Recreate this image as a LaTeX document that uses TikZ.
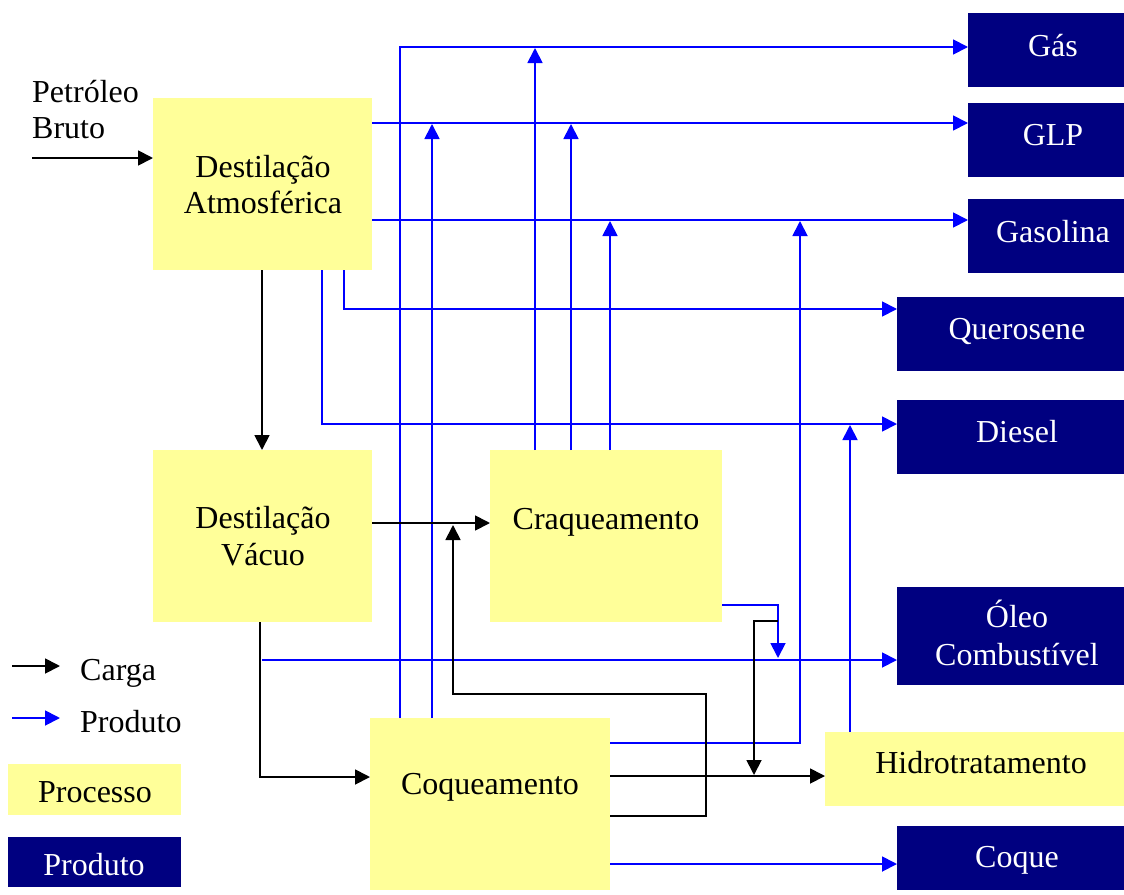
\documentclass[tikz,border=0pt]{standalone}
\usepackage{fontspec}
\setmainfont{Liberation Serif}
\usetikzlibrary{arrows.meta}
\definecolor{procY}{HTML}{FFFF99}
\definecolor{prodN}{HTML}{000080}
\definecolor{flowB}{HTML}{0000FF}
\begin{document}
\begin{tikzpicture}[x=1pt,y=-1pt,
  proc/.style={fill=procY, draw=none, inner sep=0pt, anchor=north west},
  prodbox/.style={fill=prodN, draw=none, inner sep=0pt, anchor=north west},
  lbl/.style={font=\fontsize{32}{38}\selectfont, inner sep=0pt, anchor=base},
  wlbl/.style={lbl, text=white},
  carga/.style={draw=black, line width=1.8pt, -{Triangle[length=15pt,width=15pt]}},
  cargal/.style={draw=black, line width=1.8pt},
  prod/.style={draw=flowB, line width=1.8pt, -{Triangle[length=15pt,width=15pt]}},
  prodl/.style={draw=flowB, line width=1.8pt}]
\useasboundingbox (0,0) rectangle (1124,894);

% process boxes
\node[proc, minimum width=219pt, minimum height=172pt] (da) at (153,98) {};
\node[proc, minimum width=219pt, minimum height=172pt] (dv) at (153,450) {};
\node[proc, minimum width=232pt, minimum height=172pt] (cr) at (490,450) {};
\node[proc, minimum width=240pt, minimum height=172pt] (co) at (370,718) {};
\node[proc, minimum width=299pt, minimum height=74pt] (hi) at (825,732) {};
% product boxes
\node[prodbox, minimum width=156pt, minimum height=74pt] (gas) at (968,13) {};
\node[prodbox, minimum width=156pt, minimum height=74pt] (glp) at (968,103) {};
\node[prodbox, minimum width=156pt, minimum height=74pt] (gsl) at (968,199) {};
\node[prodbox, minimum width=227pt, minimum height=74pt] (que) at (897,297) {};
\node[prodbox, minimum width=227pt, minimum height=74pt] (die) at (897,400) {};
\node[prodbox, minimum width=227pt, minimum height=98pt] (oleo) at (897,587) {};
\node[prodbox, minimum width=227pt, minimum height=64pt] (coq) at (897,826) {};
% legend boxes
\node[proc, minimum width=173pt, minimum height=51pt] (lproc) at (8,764) {};
\node[prodbox, minimum width=173pt, minimum height=50pt] (lprod) at (8,837) {};

% texts
\node[lbl] (tdaA) at (263,177) {Destilação};
\node[lbl] (tdaB) at (263,213) {Atmosférica};
\node[lbl] (tdvA) at (263,528) {Destilação};
\node[lbl] (tdvB) at (263,565) {Vácuo};
\node[lbl] (tcr) at (606,529) {Craqueamento};
\node[lbl] (tco) at (490,794) {Coqueamento};
\node[lbl] (thi) at (981,773) {Hidrotratamento};
\node[wlbl] (tgas) at (1053,56) {Gás};
\node[wlbl] (tglp) at (1053,145) {GLP};
\node[wlbl] (tgsl) at (1053,242) {Gasolina};
\node[wlbl] (tque) at (1017,339) {Querosene};
\node[wlbl] (tdie) at (1017,442) {Diesel};
\node[wlbl] (toleoA) at (1017,627) {Óleo};
\node[wlbl] (toleoB) at (1017,665) {Combustível};
\node[wlbl] (tcoq) at (1017,867) {Coque};
\node[lbl, anchor=base west] (tpetA) at (32,102) {Petróleo};
\node[lbl, anchor=base west] (tpetB) at (32,138) {Bruto};
\node[lbl, anchor=base west] (tcarga) at (80,680) {Carga};
\node[lbl, anchor=base west] (tprodl) at (80,732) {Produto};
\begin{scope}
  \clip (8,764) rectangle (181,802);
  \node[lbl] (tlproc) at (95,802) {Processo};
\end{scope}
\begin{scope}
  \clip (8,837) rectangle (181,875);
  \node[wlbl] (tlprod) at (94,875) {Produto};
\end{scope}

% helper coordinates
\coordinate (pet) at (32,158);
\coordinate (jglp1) at (432,124);
\coordinate (jgas2) at (535,48);
\coordinate (jglp2) at (571,124);
\coordinate (jgsl1) at (610,221);
\coordinate (jgsl2) at (800,221);
\coordinate (jdie) at (850,425);
\coordinate (voil) at (262,660);
\coordinate (joil) at (778,658);
\coordinate (loopR) at (706,694);
\coordinate (jcr) at (453,525);
\coordinate (crbr) at (778,621);
\coordinate (jhi) at (754,775);
\coordinate (lc1) at (12,666);
\coordinate (lc2) at (60,666);
\coordinate (lp1) at (12,718);
\coordinate (lp2) at (60,718);

% blue product flows
\draw[prod] (co.north -| 400,0) |- (gas.west |- 0,47);
\draw[prod] (da.east |- 0,123) -- (glp.west |- 0,123);
\draw[prod] (da.east |- 0,220) -- (gsl.west |- 0,220);
\draw[prod] (co.north -| jglp1) -- (jglp1);
\draw[prod] (cr.north -| jgas2) -- (jgas2);
\draw[prod] (cr.north -| jglp2) -- (jglp2);
\draw[prod] (cr.north -| jgsl1) -- (jgsl1);
\draw[prod] (co.east |- 0,743) -| (jgsl2);
\draw[prod] (hi.north -| jdie) -- (jdie);
\draw[prod] (da.south -| 344,0) |- (que.west |- 0,309);
\draw[prod] (da.south -| 322,0) |- (die.west |- 0,424);
\draw[prod] (voil) -- (oleo.west |- voil);
\draw[prod] (cr.east |- 0,605) -| (joil);
\draw[prod] (co.east |- 0,864) -- (coq.west |- 0,864);

% black feed flows
\draw[carga] (pet) -- (da.west |- pet);
\draw[carga] (da.south -| 262,0) -- (dv.north -| 262,0);
\draw[carga] (dv.east |- 0,523) -- (cr.west |- 0,523);
\draw[carga] (dv.south -| 260,0) |- (co.west |- 0,777);
\draw[carga] (co.east |- 0,816) -| (loopR) -| (jcr);
\draw[carga] (co.east |- 0,776) -- (hi.west |- 0,776);
\draw[carga] (crbr) -| (jhi);

% legend arrows
\draw[carga] (lc1) -- (lc2);
\draw[prod] (lp1) -- (lp2);
\end{tikzpicture}
\end{document}
